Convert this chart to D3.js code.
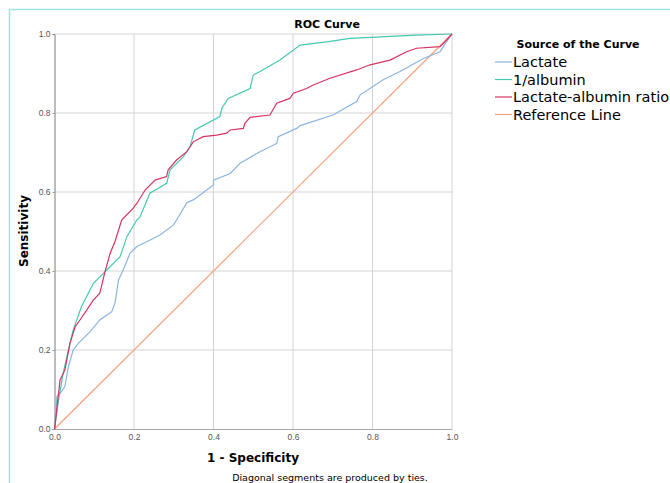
<!DOCTYPE html>
<html>
<head>
<meta charset="utf-8">
<script src="https://cdn.jsdelivr.net/npm/d3@7"></script>
<style>
  body { margin: 0; background: #fff; }
  svg { display: block; font-family: "DejaVu Sans", sans-serif; }
</style>
</head>
<body>
<svg id="chart" width="670" height="483"></svg>
<script>
// ROC points: [1 - specificity, sensitivity]
const lactate = [
  [0, 0], [0.001, 0.006], [0.006, 0.082], [0.014, 0.09], [0.026, 0.107], [0.035, 0.158],
  [0.047, 0.2], [0.06, 0.217], [0.089, 0.246], [0.114, 0.276], [0.144, 0.297], [0.152, 0.318],
  [0.161, 0.377], [0.173, 0.403], [0.19, 0.445], [0.207, 0.462], [0.232, 0.474], [0.265, 0.491],
  [0.299, 0.516], [0.307, 0.529], [0.333, 0.573], [0.349, 0.58], [0.4, 0.618], [0.4, 0.63],
  [0.442, 0.647], [0.467, 0.673], [0.517, 0.702], [0.559, 0.723], [0.563, 0.74], [0.609, 0.761],
  [0.618, 0.768], [0.701, 0.795], [0.76, 0.829], [0.769, 0.846], [0.827, 0.884], [0.869, 0.905],
  [0.928, 0.938], [0.97, 0.955], [0.978, 0.968], [1, 1]
]
const albumin = [
  [0, 0], [0.01, 0.073], [0.022, 0.142], [0.035, 0.2], [0.047, 0.251], [0.068, 0.31],
  [0.098, 0.369], [0.165, 0.436], [0.182, 0.487], [0.207, 0.529], [0.215, 0.537], [0.24, 0.597],
  [0.282, 0.622], [0.291, 0.656], [0.324, 0.689], [0.341, 0.715], [0.353, 0.757], [0.416, 0.791],
  [0.421, 0.812], [0.437, 0.837], [0.492, 0.862], [0.5, 0.896], [0.517, 0.905], [0.567, 0.934],
  [0.618, 0.972], [0.685, 0.98], [0.743, 0.989], [0.911, 0.997], [1, 1]
]
const ratio = [
  [0, 0], [0.001, 0.006], [0.014, 0.124], [0.026, 0.149], [0.039, 0.217], [0.052, 0.259],
  [0.064, 0.276], [0.081, 0.301], [0.098, 0.327], [0.114, 0.344], [0.127, 0.398], [0.14, 0.445],
  [0.152, 0.474], [0.169, 0.529], [0.198, 0.559], [0.207, 0.571], [0.228, 0.605], [0.253, 0.63],
  [0.282, 0.639], [0.286, 0.656], [0.307, 0.681], [0.333, 0.702], [0.349, 0.727], [0.374, 0.74],
  [0.408, 0.744], [0.433, 0.749], [0.442, 0.757], [0.475, 0.761], [0.479, 0.774], [0.492, 0.789],
  [0.542, 0.795], [0.559, 0.825], [0.592, 0.837], [0.601, 0.85], [0.634, 0.862], [0.651, 0.871],
  [0.693, 0.888], [0.76, 0.909], [0.794, 0.922], [0.844, 0.934], [0.886, 0.955], [0.911, 0.964],
  [0.97, 0.968], [0.978, 0.976], [1, 1]
]
const reference = [[0, 0], [1, 1]]

const seriesNames = ["Lactate", "1/albumin", "Lactate-albumin ratio", "Reference Line"]
const seriesColors = ["#8ab4e2", "#45c8b0", "#d63362", "#f5a27c"]
const ticks = [0, 0.2, 0.4, 0.6, 0.8, 1.0]

const svg = d3.select("#chart")

// outer frame (runs off the right and bottom)
svg.append("path")
  .attr("d", "M9.5,483 L9.5,9.5 L670,9.5")
  .attr("fill", "none")
  .attr("stroke", "#9fe2e4")
  .attr("stroke-width", 1.5)

var x = d3.scaleLinear().domain([0, 1]).range([54.5, 452])
var y = d3.scaleLinear().domain([0, 1]).range([429, 34])

// grid
svg.append("g").selectAll("line")
  .data(ticks.slice(1))
  .enter().append("line")
  .attr("x1", d => x(d)).attr("x2", d => x(d))
  .attr("y1", y(0)).attr("y2", y(1))
  .attr("stroke", "#d4d4d4")
svg.append("g").selectAll("line")
  .data(ticks.slice(1))
  .enter().append("line")
  .attr("x1", x(0)).attr("x2", x(1))
  .attr("y1", d => y(d)).attr("y2", d => y(d))
  .attr("stroke", "#d4d4d4")

// axes
var xAxis = svg.append("g")
  .attr("transform", `translate(0,${y(0)})`)
  .call(d3.axisBottom(x).tickValues(ticks).tickFormat(d3.format(".1f")).tickSize(0).tickPadding(5))
xAxis.select(".domain").attr("stroke", "#a8a8a8")
xAxis.selectAll("text").attr("fill", "#555").style("font-size", "8.5px")

var yAxis = svg.append("g")
  .attr("transform", `translate(${x(0)},0)`)
  .call(d3.axisLeft(y).tickValues(ticks).tickFormat(d3.format(".1f")).tickSize(2).tickPadding(2))
yAxis.select(".domain").attr("stroke", "#7a7a7a")
yAxis.selectAll(".tick line").attr("stroke", "#999")
yAxis.selectAll("text").attr("fill", "#555").style("font-size", "8.5px")

// curves
var line = d3.line().x(d => x(d[0])).y(d => y(d[1]))
var allSeries = [lactate, albumin, ratio, reference]
svg.append("g").selectAll("path")
  .data([3, 0, 1, 2])
  .enter().append("path")
  .attr("d", i => line(allSeries[i]))
  .attr("fill", "none")
  .attr("stroke", i => seriesColors[i])
  .attr("stroke-width", 1.2)

// titles
svg.append("text")
  .attr("x", 327).attr("y", 28)
  .attr("text-anchor", "middle")
  .style("font-size", "11px").style("font-weight", "bold")
  .text("ROC Curve")
svg.append("text")
  .attr("x", 253).attr("y", 462)
  .attr("text-anchor", "middle")
  .style("font-size", "12px").style("font-weight", "bold")
  .text("1 - Specificity")
svg.append("text")
  .attr("transform", "translate(28,231) rotate(-90)")
  .attr("text-anchor", "middle")
  .style("font-size", "12px").style("font-weight", "bold")
  .text("Sensitivity")
svg.append("text")
  .attr("x", 330).attr("y", 481)
  .attr("text-anchor", "middle")
  .style("font-size", "9.5px")
  .text("Diagonal segments are produced by ties.")

// legend
svg.append("text")
  .attr("x", 578).attr("y", 48)
  .attr("text-anchor", "middle")
  .style("font-size", "11px").style("font-weight", "bold")
  .text("Source of the Curve")
var legend = svg.append("g").selectAll("g")
  .data(seriesNames)
  .enter().append("g")
  .attr("transform", (d, i) => `translate(495,${62 + i * 17.5})`)
legend.append("line")
  .attr("x1", 0).attr("x2", 17)
  .attr("stroke", (d, i) => seriesColors[i])
  .attr("stroke-width", 1.2)
legend.append("text")
  .attr("x", 18).attr("y", 5)
  .style("font-size", "14.5px")
  .text(d => d)
</script>
</body>
</html>
